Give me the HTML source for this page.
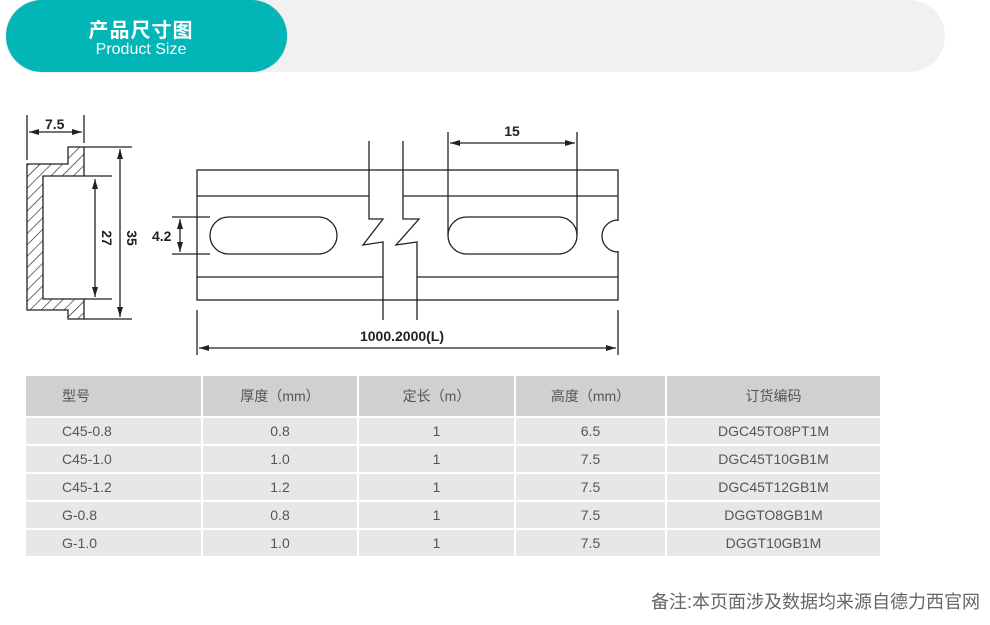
<!DOCTYPE html>
<html><head><meta charset="utf-8"><style>
body{margin:0;width:990px;height:625px;background:#fff;position:relative;overflow:hidden;font-family:"Liberation Sans","Noto Sans CJK SC",sans-serif}
.bar{position:absolute;left:120px;top:0;width:825px;height:72px;background:#f1f1f1;border-radius:0 36px 36px 0}
.pill{position:absolute;left:6px;top:0;width:281px;height:72px;background:#02b5b6;border-radius:36px;color:#fff;box-shadow:0 0 1px #999}
.pill .a{position:absolute;left:0;width:270px;text-align:center;font-size:20px;font-weight:bold;top:19px;line-height:24px;letter-spacing:1px}
.pill .b{position:absolute;left:0;width:270px;text-align:center;font-size:16px;top:41px;line-height:18px}
table{position:absolute;left:24px;top:374px;border-collapse:separate;border-spacing:2px;font-size:14px;color:#555}
td{background:#e8e7e7;height:26px;padding:0;text-align:center}
tr.h td{background:#d1d0d0;height:40px}
td.l{text-align:left;padding-left:36px}
.note{position:absolute;right:10px;top:588px;font-size:18px;color:#666}
</style></head><body>
<div class="bar"></div>
<div class="pill"><div class="a">产品尺寸图</div><div class="b">Product Size</div></div>
<svg style="position:absolute;left:0;top:0" width="990" height="370">
<defs>
<marker id="ar" markerWidth="10" markerHeight="6" refX="10" refY="3" orient="auto-start-reverse" markerUnits="userSpaceOnUse"><path d="M0,0 L10,3 L0,6 z" fill="#222"/></marker>
<pattern id="hat" width="8" height="8" patternUnits="userSpaceOnUse" patternTransform="rotate(45)"><line x1="0" y1="0" x2="0" y2="8" stroke="#222" stroke-width="1.3"/></pattern>
</defs>
<g stroke="#222" stroke-width="1.3" fill="none">
<path d="M27,164 L68,164 L68,147 L84,147 L84,176 L43,176 L43,299 L84,299 L84,319 L68,319 L68,310 L27,310 Z" fill="url(#hat)"/>
<path d="M84,147H132M84,176H112M84,299H112M84,319H132"/>
<line x1="120" y1="149" x2="120" y2="317" marker-start="url(#ar)" marker-end="url(#ar)"/>
<line x1="95" y1="179" x2="95" y2="297" marker-start="url(#ar)" marker-end="url(#ar)"/>
<path d="M27,115V160M84,115V143"/>
<line x1="29" y1="132" x2="82" y2="132" marker-start="url(#ar)" marker-end="url(#ar)"/>
<rect x="197" y="170" width="421" height="130"/>
<path d="M197,196H369M403,196H618M197,277H383M417,277H618"/>
<path d="M369,141V219H383L363,245L383,242V320"/>
<path d="M403,141V219H419L396,245L417,242V320"/>
<rect x="210" y="217" width="127" height="37" rx="18.5"/>
<rect x="448" y="217" width="129" height="37" rx="18.5"/>
<path d="M618,220A16,16 0 0 0 618,252" />
<line x1="618" y1="221" x2="618" y2="251" stroke="#fff" stroke-width="2"/>
<path d="M448,132V235M577,132V235"/>
<line x1="450" y1="143" x2="575" y2="143" marker-start="url(#ar)" marker-end="url(#ar)"/>
<path d="M172,217H210M172,254H210"/>
<line x1="180" y1="219" x2="180" y2="252" marker-start="url(#ar)" marker-end="url(#ar)"/>
<path d="M197,310V355M618,310V355"/>
<line x1="199" y1="348" x2="616" y2="348" marker-start="url(#ar)" marker-end="url(#ar)"/>
</g>
<g font-family="Liberation Sans" font-weight="bold" font-size="14" fill="#222">
<text x="45" y="129">7.5</text>
<text x="512" y="136" text-anchor="middle">15</text>
<text x="152" y="241">4.2</text>
<text x="402" y="341" text-anchor="middle">1000.2000(L)</text>
<text transform="translate(102,238) rotate(90)" text-anchor="middle">27</text>
<text transform="translate(127,238) rotate(90)" text-anchor="middle">35</text>
</g>
</svg>
<table>
<tr class="h"><td class="l" style="width:139px">型号</td><td style="width:154px">厚度（mm）</td><td style="width:155px">定长（m）</td><td style="width:149px">高度（mm）</td><td style="width:213px">订货编码</td></tr>
<tr><td class="l">C45-0.8</td><td>0.8</td><td>1</td><td>6.5</td><td>DGC45TO8PT1M</td></tr>
<tr><td class="l">C45-1.0</td><td>1.0</td><td>1</td><td>7.5</td><td>DGC45T10GB1M</td></tr>
<tr><td class="l">C45-1.2</td><td>1.2</td><td>1</td><td>7.5</td><td>DGC45T12GB1M</td></tr>
<tr><td class="l">G-0.8</td><td>0.8</td><td>1</td><td>7.5</td><td>DGGTO8GB1M</td></tr>
<tr><td class="l">G-1.0</td><td>1.0</td><td>1</td><td>7.5</td><td>DGGT10GB1M</td></tr>
</table>
<div class="note">备注:本页面涉及数据均来源自德力西官网</div>
</body></html>
